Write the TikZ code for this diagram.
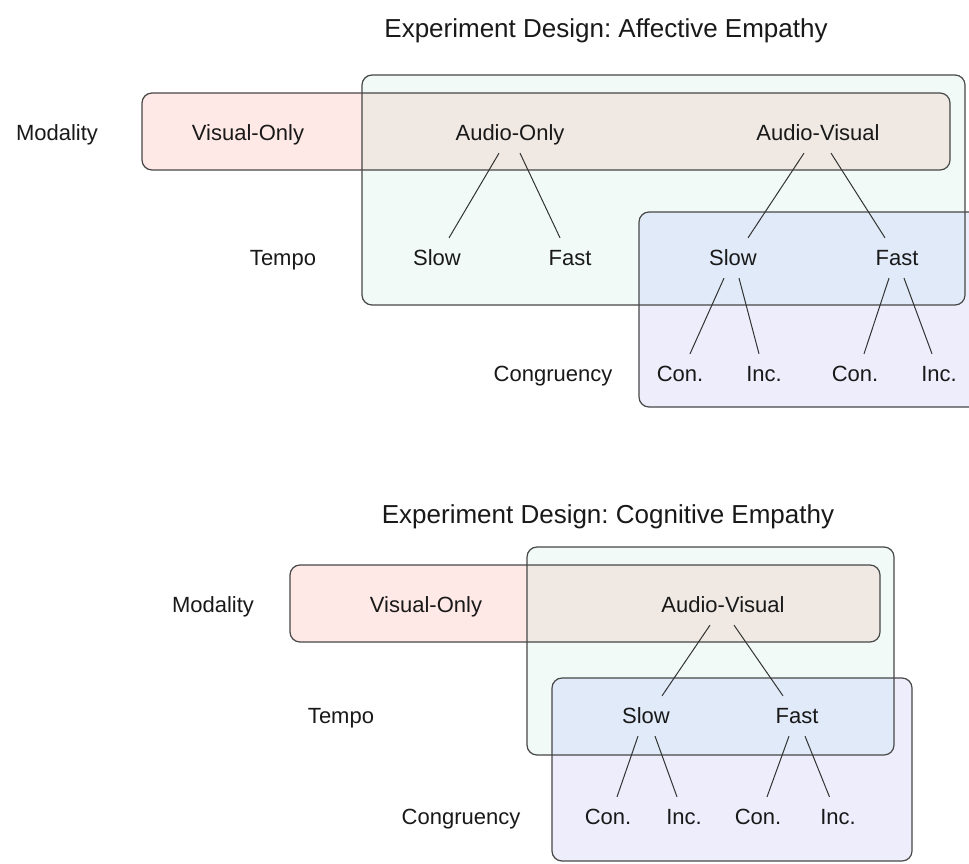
\documentclass[tikz,border=0pt]{standalone}
\usepackage{fontspec}
\setmainfont{Liberation Sans}
\frenchspacing
\definecolor{pinkf}{RGB}{255,233,230}
\definecolor{greenf}{RGB}{241,250,246}
\definecolor{lavf}{RGB}{238,237,252}
\definecolor{beigef}{RGB}{240,233,227}
\definecolor{bluef}{RGB}{224,234,248}
\definecolor{edgec}{RGB}{51,51,51}
\definecolor{txtc}{RGB}{25,25,25}
\begin{document}
\begin{tikzpicture}[x=0.75pt,y=-0.75pt,
  lbl/.style={font=\fontsize{16.5}{19}\selectfont, text=txtc, inner xsep=0pt, inner ysep=9pt, text height=11.8pt, text depth=0pt},
  ttl/.style={font=\fontsize{19.5}{24}\selectfont, text=txtc, anchor=base, inner sep=0pt},
  boxline/.style={draw=black!72, line width=0.9pt, rounded corners=7.5pt},
  rc/.style={rounded corners=7.5pt},
  link/.style={draw=edgec, line width=0.75pt}]
\useasboundingbox (0,0) rectangle (969,863);
\clip (0,0) rectangle (969,863);
\fill[white] (0,0) rectangle (969,863);

% ---------- top diagram: fills ----------
\fill[pinkf, rc] (142,93) rectangle (950,170);
\fill[greenf, rc] (362,75) rectangle (965,305);
\fill[lavf, rc] (639,212) rectangle (1000,407);
\begin{scope}
  \clip[rc] (142,93) rectangle (950,170);
  \fill[beigef, rc] (362,75) rectangle (965,305);
\end{scope}
\begin{scope}
  \clip[rc] (362,75) rectangle (965,305);
  \fill[bluef, rc] (639,212) rectangle (1000,407);
\end{scope}
\draw[boxline] (142,93) rectangle (950,170);
\draw[boxline] (362,75) rectangle (965,305);
\draw[boxline] (639,212) rectangle (1000,407);

% ---------- bottom diagram: fills ----------
\fill[pinkf, rc] (290,565) rectangle (880,642);
\fill[greenf, rc] (527,547) rectangle (894,755);
\fill[lavf, rc] (552,678) rectangle (912,861);
\begin{scope}
  \clip[rc] (290,565) rectangle (880,642);
  \fill[beigef, rc] (527,547) rectangle (894,755);
\end{scope}
\begin{scope}
  \clip[rc] (527,547) rectangle (894,755);
  \fill[bluef, rc] (552,678) rectangle (912,861);
\end{scope}
\draw[boxline] (290,565) rectangle (880,642);
\draw[boxline] (527,547) rectangle (894,755);
\draw[boxline] (552,678) rectangle (912,861);

% ---------- titles ----------
\node[ttl] (t1) at (606,38) {Experiment Design: Affective Empathy};
\node[ttl] (t2) at (608,523) {Experiment Design: Cognitive Empathy};

% ---------- top labels ----------
\node[lbl] (mod1) at (57,133) {Modality};
\node[lbl] (vo1) at (248,133) {Visual-Only};
\node[lbl] (ao1) at (510,133) {Audio-Only};
\node[lbl] (av1) at (818,133) {Audio-Visual};
\node[lbl] (tmp1) at (283,258) {Tempo};
\node[lbl] (s1) at (437,258) {Slow};
\node[lbl] (f1) at (570,258) {Fast};
\node[lbl] (s2) at (733,258) {Slow};
\node[lbl] (f2) at (897,258) {Fast};
\node[lbl] (cg1) at (553,374) {Congruency};
\node[lbl] (c1) at (680,374) {Con.};
\node[lbl] (i1) at (764,374) {Inc.};
\node[lbl] (c2) at (855,374) {Con.};
\node[lbl] (i2) at (939,374) {Inc.};

\draw[link] ([xshift=-8.25pt]ao1.south) -- ([xshift=9pt]s1.north);
\draw[link] ([xshift=7.5pt]ao1.south) -- ([xshift=-7.5pt]f1.north);
\draw[link] ([xshift=-10.5pt]av1.south) -- ([xshift=11.25pt]s2.north);
\draw[link] ([xshift=9.75pt]av1.south) -- ([xshift=-9pt]f2.north);
\draw[link] ([xshift=-6.75pt]s2.south) -- ([xshift=7.5pt]c1.north);
\draw[link] ([xshift=4.5pt]s2.south) -- ([xshift=-3.75pt]i1.north);
\draw[link] ([xshift=-6pt]f2.south) -- ([xshift=6.75pt]c2.north);
\draw[link] ([xshift=5.25pt]f2.south) -- ([xshift=-5.25pt]i2.north);

% ---------- bottom labels ----------
\node[lbl] (mod2) at (213,605) {Modality};
\node[lbl] (vo2) at (426,605) {Visual-Only};
\node[lbl] (av3) at (723,605) {Audio-Visual};
\node[lbl] (tmp2) at (341,716) {Tempo};
\node[lbl] (s3) at (646,716) {Slow};
\node[lbl] (f3) at (797,716) {Fast};
\node[lbl] (cg2) at (461,817) {Congruency};
\node[lbl] (c3) at (608,817) {Con.};
\node[lbl] (i3) at (684,817) {Inc.};
\node[lbl] (c4) at (758,817) {Con.};
\node[lbl] (i4) at (838,817) {Inc.};

\draw[link] ([xshift=-9.75pt]av3.south) -- ([xshift=12pt]s3.north);
\draw[link] ([xshift=8.25pt]av3.south) -- ([xshift=-10.5pt]f3.north);
\draw[link] ([xshift=-6pt]s3.south) -- ([xshift=6.75pt]c3.north);
\draw[link] ([xshift=6.75pt]s3.south) -- ([xshift=-5.25pt]i3.north);
\draw[link] ([xshift=-6pt]f3.south) -- ([xshift=6.75pt]c4.north);
\draw[link] ([xshift=6pt]f3.south) -- ([xshift=-6.4pt]i4.north);
\end{tikzpicture}
\end{document}
